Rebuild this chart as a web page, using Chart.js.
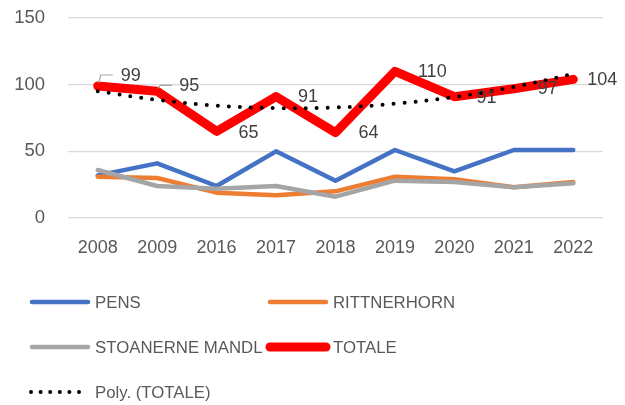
<!DOCTYPE html>
<html><head><meta charset="utf-8">
<script src="https://cdn.jsdelivr.net/npm/chart.js@4"></script>
<style>html,body{margin:0;padding:0;background:#fff}#wrap{width:625px;height:405px}</style>
</head><body><div id="wrap"><canvas id="c" width="625" height="405"></canvas></div>
<script>
const categories = ['2008','2009','2016','2017','2018','2019','2020','2021','2022'];
const pens = [32,41,24,50,28,51,35,51,51];
const rittnerhorn = [31,30,19,17,20,31,29,23,27];
const stoanerneMandl = [36,24,22,24,16,28,27,23,26];
const totale = [99,95,65,91,64,110,91,97,104];
const polyTotale = [95.1,88.6,84.3,82.4,82.9,85.7,90.8,98.3,108.1];
const yMin = 0, yMax = 150, yStep = 50;

// label placement (offsets from point, px)
const labelOffsets = [[23,-10],[22,-5],[22,2],[22,0],[23,0],[23,1],[22,1],[24,0],[14,1]];
const leaderIdx = [0,1];
const PLOT_TOP = 18;

const FONT = '"Liberation Sans", Arial, sans-serif';

const areaPlugin = {
  id: 'fixArea',
  afterLayout(chart) {
    const y = chart.scales.y;
    y.top = PLOT_TOP;
    y.height = y.bottom - PLOT_TOP;
    y.configure();
    chart.chartArea.top = PLOT_TOP;
    chart.chartArea.height = chart.chartArea.bottom - PLOT_TOP;
  }
};

const labelPlugin = {
  id: 'totLabels',
  afterDatasetsDraw(chart) {
    const ctx = chart.ctx;
    const meta = chart.getDatasetMeta(3);
    ctx.save();
    ctx.font = '18px ' + FONT;
    ctx.fillStyle = '#404040';
    ctx.textAlign = 'left';
    ctx.textBaseline = 'middle';
    meta.data.forEach((pt, i) => {
      const [dx, dy] = labelOffsets[i];
      ctx.fillText(String(totale[i]), pt.x + dx, pt.y + dy);
      if (leaderIdx.includes(i)) {
        ctx.strokeStyle = '#a6a6a6';
        ctx.lineWidth = 1.2;
        ctx.beginPath();
        ctx.moveTo(pt.x + 1, pt.y - 3);
        ctx.lineTo(pt.x + 3, pt.y + dy - 1);
        ctx.lineTo(pt.x + 15, pt.y + dy - 1);
        ctx.stroke();
      }
    });
    ctx.restore();
  }
};

const legendPlugin = {
  id: 'customLegend',
  afterDraw(chart) {
    const ctx = chart.ctx;
    const cols = [30, 268];
    const rows = [302, 347, 392];
    ctx.save();
    ctx.font = '16.8px ' + FONT;
    ctx.fillStyle = '#595959';
    ctx.textBaseline = 'middle';
    chart.data.datasets.forEach((ds, i) => {
      const x = cols[i % 2], y = rows[Math.floor(i / 2)];
      ctx.save();
      ctx.strokeStyle = ds.borderColor;
      ctx.lineWidth = ds.borderWidth;
      ctx.lineCap = 'round';
      if (ds.borderDash && ds.borderDash.length) ctx.setLineDash([0, 9.6]);
      ctx.beginPath();
      ctx.moveTo(x + (ds.borderDash ? 1 : 2), y);
      ctx.lineTo(x + 58, y);
      ctx.stroke();
      ctx.restore();
      ctx.fillText(ds.label, x + 65, y + 1);
    });
    ctx.restore();
  }
};

const lineDs = (label, data, color, width, order) => ({
  label, data, borderColor: color, backgroundColor: color, borderWidth: width,
  pointRadius: 0, pointHoverRadius: 0, tension: 0, order,
  borderJoinStyle: 'round', borderCapStyle: 'round', fill: false
});

const polyDs = lineDs('Poly. (TOTALE)', polyTotale, '#000000', 4, 1);
polyDs.borderDash = [0, 11];
polyDs.tension = 0.4;

new Chart(document.getElementById('c'), {
  type: 'line',
  data: {
    labels: categories,
    datasets: [
      lineDs('PENS', pens, '#4472C4', 4.5, 5),
      lineDs('RITTNERHORN', rittnerhorn, '#ED7D31', 4.5, 4),
      lineDs('STOANERNE MANDL', stoanerneMandl, '#A5A5A5', 4.5, 3),
      lineDs('TOTALE', totale, '#FF0000', 9, 2),
      polyDs
    ]
  },
  options: {
    responsive: false,
    animation: false,
    layout: { padding: { top: 18, right: 22, bottom: 147, left: 0 } },
    plugins: { legend: { display: false }, title: { display: false }, tooltip: { enabled: false } },
    scales: {
      x: {
        offset: true,
        grid: { display: false, drawTicks: false },
        border: { display: false },
        ticks: { color: '#595959', font: { family: FONT, size: 18 }, padding: 19, maxRotation: 0 },
        afterFit(s) { s.height = 40; }
      },
      y: {
        min: yMin, max: yMax,
        grid: { color: '#d9d9d9', lineWidth: 1.3, drawTicks: false },
        border: { display: false },
        ticks: { stepSize: yStep, color: '#595959', font: { family: FONT, size: 18.5 }, padding: 23 },
        afterFit(s) { s.width = 68; }
      }
    }
  },
  plugins: [areaPlugin, labelPlugin, legendPlugin]
});
</script>
</body></html>
